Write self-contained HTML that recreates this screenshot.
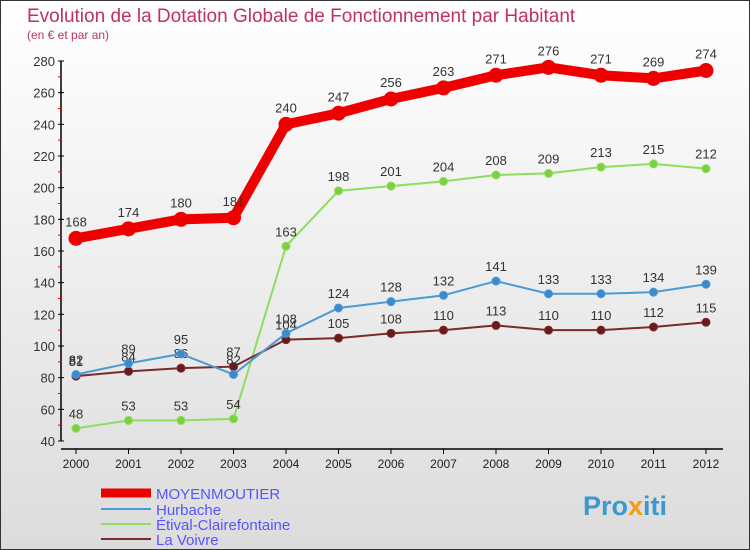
<!DOCTYPE html>
<html><head><meta charset="utf-8"><style>
body{margin:0}
#c{width:750px;height:550px;position:relative;box-sizing:border-box;border:1px solid #333;background:linear-gradient(#fff,#dcdcdc);font-family:"Liberation Sans",sans-serif;overflow:hidden}
</style></head><body>
<div id="c">
<svg width="748" height="548" id="s">
<text x="26" y="21" font-size="19" fill="#c03060">Evolution de la Dotation Globale de Fonctionnement par Habitant</text>
<text x="26" y="38" font-size="12" fill="#c03060">(en € et par an)</text>
<g id="ax"></g><g id="ser"></g>
<g>
<line x1="100" y1="492" x2="150" y2="492" stroke="#e00" stroke-width="9"/>
<text x="155" y="498" font-size="15" fill="#55f">MOYENMOUTIER</text>
<line x1="100" y1="508" x2="150" y2="508" stroke="#4a9ad4" stroke-width="2"/>
<text x="155" y="514" font-size="15" fill="#55f">Hurbache</text>
<line x1="100" y1="523" x2="150" y2="523" stroke="#8fdc60" stroke-width="2"/>
<text x="155" y="529" font-size="15" fill="#55f">Étival-Clairefontaine</text>
<line x1="100" y1="538" x2="150" y2="538" stroke="#7a2a2a" stroke-width="2"/>
<text x="155" y="544" font-size="15" fill="#55f">La Voivre</text>
</g>
<text x="582" y="514" font-size="27" font-weight="bold" fill="#3a9ad0">Pro<tspan fill="#f39c12">x</tspan>iti</text>
</svg></div>
<script>
const years=[2000,2001,2002,2003,2004,2005,2006,2007,2008,2009,2010,2011,2012];
const yTicks=[40,60,80,100,120,140,160,180,200,220,240,260,280];
const moyenmoutier=[168,174,180,181,240,247,256,263,271,276,271,269,274];
const hurbache=[82,89,95,82,108,124,128,132,141,133,133,134,139];
const etival=[48,53,53,54,163,198,201,204,208,209,213,215,212];
const voivre=[81,84,86,87,104,105,108,110,113,110,110,112,115];
const NS="http://www.w3.org/2000/svg";
function X(i){return 75+i*52.5;}
function Y(v){return 440-(v-40)*(380/240);}
function mk(t,a,p){const e=document.createElementNS(NS,t);for(const k in a)e.setAttribute(k,a[k]);p.appendChild(e);return e;}
const ax=document.getElementById('ax');
const yl=mk('line',{x1:60,y1:Y(280),x2:60,y2:Y(40),stroke:'#000','stroke-width':1.5},ax);


const xl=mk('line',{x1:60,y1:448,x2:722,y2:448,stroke:'#000','stroke-width':1.5},ax);


yTicks.forEach(v=>{
 mk('line',{x1:57,y1:Y(v),x2:63,y2:Y(v),stroke:'#000'},ax);
 if(v<280) mk('line',{x1:57,y1:Y(v+10),x2:61,y2:Y(v+10),stroke:'#e00'},ax);
 const t=mk('text',{x:54,y:Y(v)+5,'text-anchor':'end','font-size':13,fill:'#333'},ax);t.textContent=v;
 
 
});
years.forEach((yr,i)=>{
 mk('line',{x1:X(i),y1:448,x2:X(i),y2:453,stroke:'#000'},ax);
 const t=mk('text',{x:X(i),y:467,'text-anchor':'middle','font-size':12,fill:'#222'},ax);t.textContent=yr;
 
 
});
const ser=document.getElementById('ser');
function draw(d,col,fill,w,r,name,off){
 const g=mk('g',{},ser);
 
 
 const p=mk('polyline',{points:d.map((v,i)=>X(i)+','+Y(v)).join(' '),fill:'none',stroke:col,'stroke-width':w,'stroke-linejoin':'round'},g);
 
 
 d.forEach((v,i)=>{
  const c=mk('circle',{cx:X(i),cy:Y(v),r:r,fill:fill,stroke:col,'stroke-width':1},g);
  
  
  const t=mk('text',{x:X(i),y:Y(v)-off,'text-anchor':'middle','font-size':13,fill:'#333'},g);t.textContent=v;
  
  
 });
}
draw(etival,'#8fdc60','#7cd040',2,4,'etival',10);
draw(voivre,'#7a2a2a','#6a1a1a',2,4,'la-voivre',10);
draw(hurbache,'#4a9ad4','#3a8ad0',2,4,'hurbache',10);
draw(moyenmoutier,'#e00','#e00',10,7,'moyenmoutier',12);
</script>
</body></html>
